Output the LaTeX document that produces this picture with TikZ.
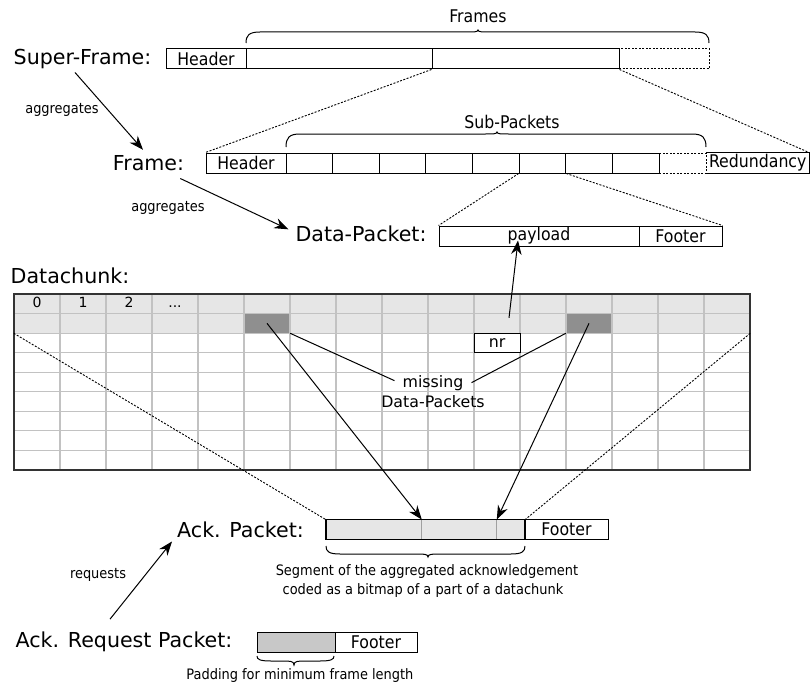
\documentclass[tikz,border=0pt]{standalone}
\usepackage{fontspec}
\setmainfont{DejaVu Sans}
\newfontfamily\condfont{DejaVu Sans Condensed}
\usetikzlibrary{arrows.meta,calc}

\definecolor{hdrgray}{HTML}{E6E6E6}
\definecolor{darkcell}{HTML}{8F8F8F}
\definecolor{gridgray}{HTML}{C2C2C2}
\definecolor{padgray}{HTML}{C8C8C8}
\definecolor{divgray}{HTML}{A0A0A0}
\definecolor{chunkline}{HTML}{333333}

\newcommand{\lblbig}{\fontsize{20.6}{24}\selectfont}
\newcommand{\lblbox}{\condfont\fontsize{17.5}{21}\selectfont}
\newcommand{\lblsmall}{\condfont\fontsize{14.4}{17}\selectfont}
\newcommand{\lblmis}{\fontsize{15.8}{19}\selectfont}
\newcommand{\lblidx}{\fontsize{14}{16}\selectfont}

% curly brace: x1, x2, x of tip, y of ends, flat offset, tip offset (positive = upwards)
\newcommand{\cbrace}[6]{%
  \draw[brc] (#1,#4) .. controls (#1,{#4-0.7*(#5)}) and ({#1+3},{#4-(#5)}) .. ({#1+14},{#4-(#5)})
    -- ({#3-12},{#4-(#5)}) .. controls ({#3-4},{#4-(#5)}) and (#3,{#4-(#5)}) .. (#3,{#4-(#6)})
    .. controls (#3,{#4-(#5)}) and ({#3+4},{#4-(#5)}) .. ({#3+12},{#4-(#5)})
    -- ({#2-14},{#4-(#5)}) .. controls ({#2-3},{#4-(#5)}) and (#2,{#4-0.7*(#5)}) .. (#2,#4);}

\tikzset{
  box/.style={draw, line width=1pt, inner sep=0pt, minimum height=20pt, font=\lblbox},
  dotbox/.style={draw, line width=1pt, inner sep=0pt, minimum height=20pt, dash pattern=on 2pt off 1.5pt},
  cellbox/.style={inner sep=0pt, minimum width=46pt, minimum height=19.556pt},
  big/.style={font=\lblbig, inner sep=0pt, anchor=base},
  small/.style={font=\lblsmall, inner sep=0pt, anchor=base},
  arr/.style={line width=1pt, -{Stealth[length=14pt,width=10.5pt]}},
  link/.style={line width=1pt},
  zoomline/.style={line width=0.9pt, dash pattern=on 2pt off 1.5pt},
  brc/.style={line width=1pt},
  gridline/.style={gridgray, line width=1.1pt},
}

\begin{document}
\begin{tikzpicture}[x=1pt,y=-1pt]
\useasboundingbox (0,0) rectangle (811,685);

% ---------- Super-Frame ----------
\node[big] (sfl) at (82.5,65) {Super-Frame:};
\node[box, minimum width=80pt] (sfh) at (206,59) {Header};
\node[box, minimum width=186pt] (sf1) at (339,59) {};
\node[dotbox, minimum width=90pt] (sf3) at (664,59) {};
\node[box, minimum width=187pt] (sf2) at (525.5,59) {};
\cbrace{246}{709}{478}{43}{11}{13}
\node[font=\lblbox, inner sep=0pt, anchor=base] (frames) at (478,23) {Frames};

\node[small] (agg1) at (62,113) {aggregates};

% ---------- Frame ----------
\node[big] (frl) at (148.5,170) {Frame:};
\node[box, minimum width=80pt] (fh) at (246,163) {Header};
\foreach \i in {1,...,8}
  \node[box, minimum width=46.625pt] (c\i) at ({286+46.625*(\i-0.5)},163) {};
\node[dotbox, minimum width=47pt] (fd) at (682.5,163) {};
\node[inner sep=0pt, minimum width=103.5pt, minimum height=20pt, font=\lblbox] (red) at (757.75,163) {Redundancy};
\draw[link] (red.north west) -- (red.north east) -- (red.south east) -- (red.south west);
\cbrace{286}{706}{497}{147}{13}{15}
\node[font=\lblbox, inner sep=0pt, anchor=base] (subp) at (512,128) {Sub-Packets};

\draw[zoomline] (sf2.south west) -- (fh.north west);
\draw[zoomline] (sf2.south east) -- (red.north east);

\node[small] (agg2) at (168,211) {aggregates};

% ---------- Data-Packet ----------
\node[big] (dpl) at (361,241) {Data-Packet:};
\node[box, minimum width=200pt] (pay) at (539,236) {payload};
\node[box, minimum width=83pt] (foot) at (680.5,236) {Footer};

\draw[zoomline] (c6.south west) -- (pay.north west);
\draw[zoomline] (c6.south east) -- (foot.north east);

\draw[arr] ([xshift=-7.5pt,yshift=-3pt]sfl.south) -- ([xshift=-5.5pt,yshift=5pt]frl.north);
\draw[arr] ([xshift=-4pt,yshift=-8pt]frl.south east) -- ([xshift=-7pt,yshift=4pt]dpl.west);

% ---------- Datachunk ----------
\node[big] (dcl) at (70,283) {Datachunk:};
\node[fill=hdrgray, inner sep=0pt, minimum width=736pt, minimum height=39.11pt] (band) at (382,313.56) {};
\node[cellbox, fill=darkcell] (miss1) at (267,323.33) {};
\node[cellbox, fill=darkcell] (miss2) at (589,323.33) {};
\foreach \i in {1,...,15}
  \draw[gridline] ({14+46*\i},294) -- ({14+46*\i},470);
\foreach \j in {1,...,8}
  \draw[gridline] (14,{294+19.556*\j}) -- (750,{294+19.556*\j});
\node[draw=chunkline, line width=1.2pt, inner sep=0pt, minimum width=736pt, minimum height=176pt] (chunk) at (382,382) {};

\node[font=\lblidx, inner sep=0pt, anchor=base] (i0) at (37,307.5) {0};
\node[font=\lblidx, inner sep=0pt, anchor=base] (i1) at (83,307.5) {1};
\node[font=\lblidx, inner sep=0pt, anchor=base] (i2) at (129,307.5) {2};
\node[font=\lblidx, inner sep=0pt, anchor=base] (i3) at (175,307.5) {...};

\node[cellbox, draw, line width=1pt, fill=white, font=\lblmis] (nr) at (497,342.89) {nr};

\node[font=\lblmis, inner sep=0pt, anchor=base] (mis) at (433,387) {missing};
\node[font=\lblmis, inner sep=0pt, anchor=base] (misb) at (433,407) {Data-Packets};
\draw[link] ([xshift=-8pt,yshift=2pt]mis.west) -- (miss1.south east);
\draw[link] ([xshift=8pt]mis.east) -- (miss2.south west);

\draw[arr] ([xshift=12pt,yshift=25pt]nr.center) -- ([xshift=-21pt,yshift=6pt]pay.south);

% ---------- Ack. Packet ----------
\node[big] (ackl) at (240.5,537) {Ack. Packet:};
\node[box, minimum width=83pt, minimum height=19.5pt] (ackf) at (566.5,529.5) {Footer};
\node[fill=hdrgray, inner sep=0pt, minimum width=199pt, minimum height=19.5pt] (ackb) at (425.5,529.5) {};
\path (ackb.north west) ++(96,0) coordinate (d1);
\path (ackb.north west) ++(171,0) coordinate (d2);
\draw[divgray, line width=1pt] (d1) -- (d1 |- ackb.south);
\draw[divgray, line width=1pt] (d2) -- (d2 |- ackb.south);
\draw[line width=1.6pt] (ackb.north west) rectangle (ackb.south east);

\draw[zoomline] (band.south west) -- (ackb.north west);
\draw[zoomline] (band.south east) -- (ackb.north east);

\draw[arr] (miss1.center) -- (d1);
\draw[arr] (miss2.center) -- (d2);

\cbrace{326}{525}{428}{546}{-8}{-11}
\node[small] (seg1) at (427,575) {Segment of the aggregated acknowledgement};
\node[small] (seg2) at (423,594) {coded as a bitmap of a part of a datachunk};

% ---------- Ack. Request Packet ----------
\node[small] (req) at (98,578) {requests};
\node[big] (arql) at (124,647) {Ack. Request Packet:};
\node[box, fill=padgray, minimum width=78pt] (pad) at (296,642) {};
\node[box, minimum width=82pt] (arqf) at (376,642) {Footer};
\cbrace{257}{334}{294}{656}{-5}{-9}
\node[small] (padl) at (300,679) {Padding for minimum frame length};

\draw[arr] ([xshift=-14pt,yshift=12pt]arql.north) -- ([xshift=-5pt,yshift=-4pt]ackl.south west);

\end{tikzpicture}
\end{document}
